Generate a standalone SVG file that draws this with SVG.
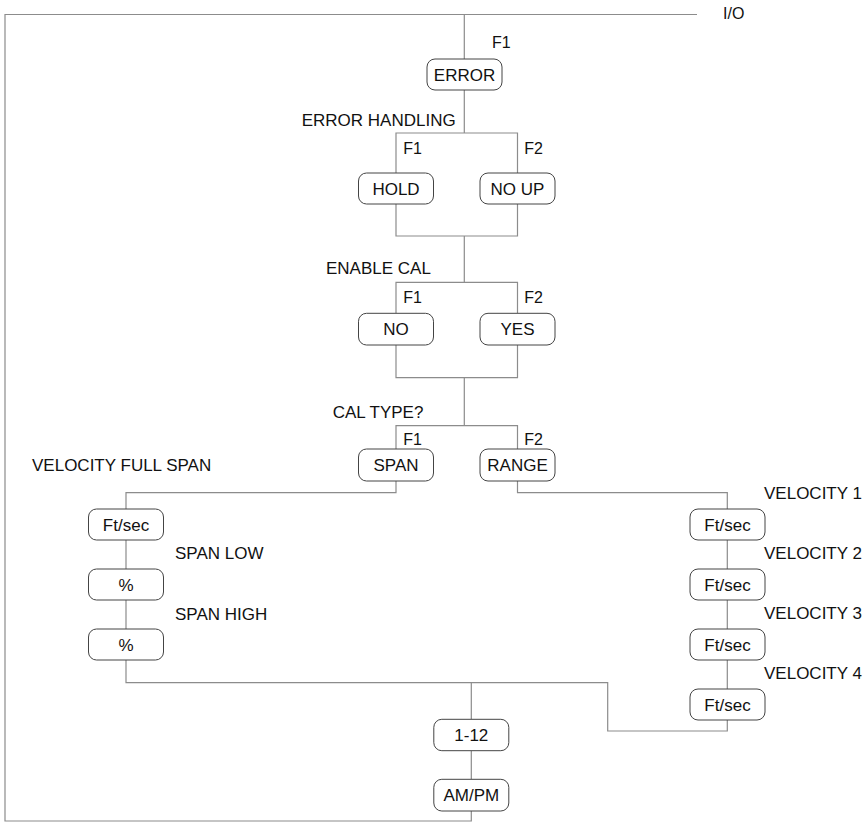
<svg xmlns="http://www.w3.org/2000/svg" width="866" height="823" viewBox="0 0 866 823">
<style>
.ln{fill:none;stroke:#8c8c8c;stroke-width:1.2}
.bx{fill:#fff;stroke:#444;stroke-width:1}
.t{font-family:"Liberation Sans",Arial,sans-serif;font-size:17px;fill:#111}
.f{font-family:"Liberation Sans",Arial,sans-serif;font-size:16px;fill:#111}
.c{text-anchor:middle}
</style>
<rect width="866" height="823" fill="#fff"/>
<g id="connectors">
<path class="ln" d="M697,14.5 H5 V821 H471.3 V811"/>
<path class="ln" d="M464.3,14.5 V59"/>
<path class="ln" d="M464.3,90 V133 M396,173 V133 H517.5 V173 M396,204 V236 H517.5 V204 M464.3,236 V282.3"/>
<path class="ln" d="M396,313.3 V282.3 H517.5 V313.3 M396,345 V377.7 H517.5 V345 M464.3,377.7 V425.7"/>
<path class="ln" d="M396,449 V425.7 H517.5 V449"/>
<path class="ln" d="M396,481 V492.7 H126 V509 M126,540 V569 M126,600 V629 M126,660 V682.7 H607.7 V731 H727.3 V720"/>
<path class="ln" d="M517.5,481 V492.7 H727.3 V509 M727.3,540 V569 M727.3,600 V629 M727.3,660 V689"/>
<path class="ln" d="M471.3,682.7 V719.3 M471.3,750.7 V779.3"/>
</g>
<text class="f" x="723" y="19.3">I/O</text>
<text class="f" x="492" y="48">F1</text>
<g id="error"><rect class="bx" x="427" y="59" width="75" height="31" rx="8"/><text class="t c" x="464.5" y="80.8">ERROR</text></g>
<text class="t" x="301.7" y="126">ERROR HANDLING</text>
<text class="f" x="403.3" y="154">F1</text>
<text class="f" x="524.3" y="154">F2</text>
<g id="hold"><rect class="bx" x="358.5" y="173" width="75" height="31" rx="8"/><text class="t c" x="396" y="194.5">HOLD</text></g>
<g id="noup"><rect class="bx" x="480" y="173" width="75" height="31" rx="8"/><text class="t c" x="517.5" y="194.5">NO UP</text></g>
<text class="t" x="326" y="274">ENABLE CAL</text>
<text class="f" x="403.3" y="303">F1</text>
<text class="f" x="524.3" y="303">F2</text>
<g id="no"><rect class="bx" x="358.5" y="313.3" width="75" height="31.7" rx="8"/><text class="t c" x="396" y="335.2">NO</text></g>
<g id="yes"><rect class="bx" x="480" y="313.3" width="75" height="31.7" rx="8"/><text class="t c" x="517.5" y="335.2">YES</text></g>
<text class="t" x="332.7" y="418">CAL TYPE?</text>
<text class="f" x="403.3" y="445">F1</text>
<text class="f" x="524.3" y="445">F2</text>
<g id="span"><rect class="bx" x="358.5" y="449" width="75" height="32" rx="8"/><text class="t c" x="396" y="471">SPAN</text></g>
<g id="range"><rect class="bx" x="480" y="449" width="75" height="32" rx="8"/><text class="t c" x="517.5" y="471">RANGE</text></g>
<text class="t" x="32" y="471">VELOCITY FULL SPAN</text>
<g id="fs"><rect class="bx" x="88.5" y="509" width="75" height="31" rx="8"/><text class="t c" x="126" y="530.5">Ft/sec</text></g>
<text class="t" x="175" y="559">SPAN LOW</text>
<g id="slow"><rect class="bx" x="88.5" y="569" width="75" height="31" rx="8"/><text class="t c" x="126" y="590.5">%</text></g>
<text class="t" x="175" y="620">SPAN HIGH</text>
<g id="shigh"><rect class="bx" x="88.5" y="629" width="75" height="31" rx="8"/><text class="t c" x="126" y="650.5">%</text></g>
<text class="t" x="764" y="499">VELOCITY 1</text>
<g id="v1"><rect class="bx" x="690" y="509" width="75" height="31" rx="8"/><text class="t c" x="727.5" y="530.5">Ft/sec</text></g>
<text class="t" x="764" y="559">VELOCITY 2</text>
<g id="v2"><rect class="bx" x="690" y="569" width="75" height="31" rx="8"/><text class="t c" x="727.5" y="590.5">Ft/sec</text></g>
<text class="t" x="764" y="619">VELOCITY 3</text>
<g id="v3"><rect class="bx" x="690" y="629" width="75" height="31" rx="8"/><text class="t c" x="727.5" y="650.5">Ft/sec</text></g>
<text class="t" x="764" y="679">VELOCITY 4</text>
<g id="v4"><rect class="bx" x="690" y="689" width="75" height="31" rx="8"/><text class="t c" x="727.5" y="710.5">Ft/sec</text></g>
<g id="hour"><rect class="bx" x="433.8" y="719.3" width="75" height="31.4" rx="8"/><text class="t c" x="471.3" y="741">1-12</text></g>
<g id="ampm"><rect class="bx" x="433.8" y="779.3" width="75" height="31.7" rx="8"/><text class="t c" x="471.3" y="801">AM/PM</text></g>
</svg>
